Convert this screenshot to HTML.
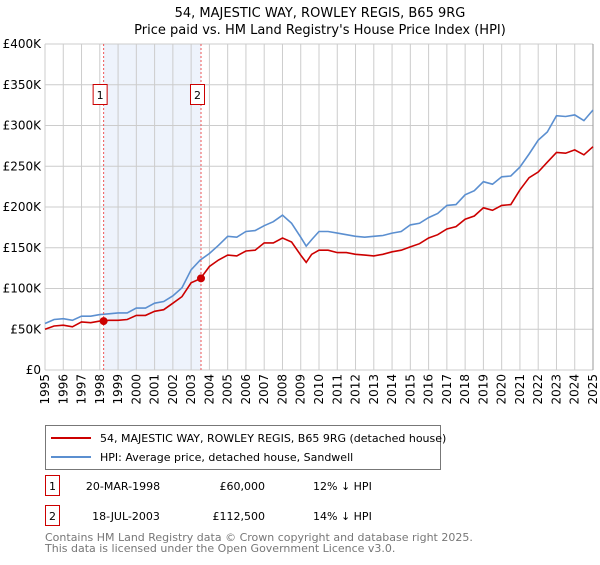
<!DOCTYPE html>
<html><head><meta charset="utf-8"><style>
body{margin:0;background:#fff;font-family:"Liberation Sans","DejaVu Sans",sans-serif;}
svg text{font-family:"DejaVu Sans","Liberation Sans",sans-serif;}
</style></head><body>
<svg id="c" width="600" height="560" viewBox="0 0 600 560" xmlns="http://www.w3.org/2000/svg">
<text x="320" y="17" text-anchor="middle" font-size="13">54, MAJESTIC WAY, ROWLEY REGIS, B65 9RG</text>
<text x="320" y="34" text-anchor="middle" font-size="13">Price paid vs. HM Land Registry's House Price Index (HPI)</text>
<g id="grid"></g><g id="marks"></g>
<g>
<rect x="45.5" y="425.5" width="395" height="44" fill="#fff" stroke="#777"/>
<line x1="51" y1="438" x2="91" y2="438" stroke="#c00" stroke-width="2"/>
<text x="100" y="442" font-size="11">54, MAJESTIC WAY, ROWLEY REGIS, B65 9RG (detached house)</text>
<line x1="51" y1="457" x2="91" y2="457" stroke="#5b8fd0" stroke-width="2"/>
<text x="100" y="461" font-size="11">HPI: Average price, detached house, Sandwell</text>
</g>
<g font-size="11">
<rect x="45.5" y="475.5" width="14" height="20" fill="#fff" stroke="#c00"/><text x="52.5" y="490" text-anchor="middle">1</text>
<text x="123" y="490" text-anchor="middle">20-MAR-1998</text><text x="265" y="490" text-anchor="end">£60,000</text><text x="313" y="490">12% ↓ HPI</text>
<rect x="45.5" y="505.5" width="14" height="20" fill="#fff" stroke="#c00"/><text x="52.5" y="520" text-anchor="middle">2</text>
<text x="126" y="520" text-anchor="middle">18-JUL-2003</text><text x="265" y="520" text-anchor="end">£112,500</text><text x="313" y="520">14% ↓ HPI</text>
</g>
<text x="45" y="541" font-size="11" fill="#777">Contains HM Land Registry data © Crown copyright and database right 2025.</text>
<text x="45" y="552" font-size="11" fill="#777">This data is licensed under the Open Government Licence v3.0.</text>
</svg>
<script>
const hpiYears=[1995,1995.5,1996,1996.5,1997,1997.5,1998,1998.5,1999,1999.5,2000,2000.5,2001,2001.5,2002,2002.5,2003,2003.5,2004,2004.5,2005,2005.5,2006,2006.5,2007,2007.5,2008,2008.5,2009,2009.3,2009.6,2010,2010.5,2011,2011.5,2012,2012.5,2013,2013.5,2014,2014.5,2015,2015.5,2016,2016.5,2017,2017.5,2018,2018.5,2019,2019.5,2020,2020.5,2021,2021.5,2022,2022.5,2023,2023.5,2024,2024.5,2025];
const hpiValues=[57,62,63,61,66,66,68,69,70,70,76,76,82,84,91,101,123,135,143,153,164,163,170,171,177,182,190,180,163,152,160,170,170,168,166,164,163,164,165,168,170,178,180,187,192,202,203,215,220,231,228,237,238,249,265,282,292,312,311,313,306,319];
const priceYears=[1995,1995.5,1996,1996.5,1997,1997.5,1998,1998.5,1999,1999.5,2000,2000.5,2001,2001.5,2002,2002.5,2003,2003.5,2004,2004.5,2005,2005.5,2006,2006.5,2007,2007.5,2008,2008.5,2009,2009.3,2009.6,2010,2010.5,2011,2011.5,2012,2012.5,2013,2013.5,2014,2014.5,2015,2015.5,2016,2016.5,2017,2017.5,2018,2018.5,2019,2019.5,2020,2020.5,2021,2021.5,2022,2022.5,2023,2023.5,2024,2024.5,2025];
const priceValues=[50,54,55,53,59,58,60,61,61,62,67,67,72,74,82,90,107,112,127,135,141,140,146,147,156,156,162,157,141,132,142,147,147,144,144,142,141,140,142,145,147,151,155,162,166,173,176,185,189,199,196,202,203,221,236,243,255,267,266,270,264,274];
const sales=[{t:1998.21,v:60,label:"1"},{t:2003.54,v:112.5,label:"2"}];
const yTicks=[0,50,100,150,200,250,300,350,400];
const yTickLabels=["£0","£50K","£100K","£150K","£200K","£250K","£300K","£350K","£400K"];
const xTicks=[1995,1996,1997,1998,1999,2000,2001,2002,2003,2004,2005,2006,2007,2008,2009,2010,2011,2012,2013,2014,2015,2016,2017,2018,2019,2020,2021,2022,2023,2024,2025];
const X0=45,X1=593,Y0=370,Y1=44;
const x=t=>X0+(t-1995)/(2025-1995)*(X1-X0);
const y=v=>Y0-v/400*(Y0-Y1);
const NS="http://www.w3.org/2000/svg";
const grid=document.getElementById('grid'),marks=document.getElementById('marks');
function mk(tag,at,parent){const e=document.createElementNS(NS,tag);for(const k in at)e.setAttribute(k,at[k]);parent.appendChild(e);return e;}
const band=mk('rect',{x:x(sales[0].t),y:Y1,width:x(sales[1].t)-x(sales[0].t),height:Y0-Y1,fill:'#eef3fc'},grid);


yTicks.forEach((v,i)=>{
 const l=mk('line',{x1:X0,x2:X1,y1:y(v),y2:y(v),stroke:'#ccc'},grid);
 
 
 const t=mk('text',{x:X0-4,y:y(v)+4,'text-anchor':'end','font-size':'12'},grid);t.textContent=yTickLabels[i];
 
 
});
xTicks.forEach(yr=>{
 const l=mk('line',{x1:x(yr),x2:x(yr),y1:Y1,y2:Y0,stroke:'#ccc'},grid);
 
 
 const t=mk('text',{x:0,y:0,'text-anchor':'end','font-size':'12',transform:`translate(${x(yr)+4},374) rotate(-90)`},grid);t.textContent=yr;
 
 
});
const rb=mk('line',{x1:X1,x2:X1,y1:Y1,y2:Y0,stroke:'#999'},grid);


function path(ts,vs){return ts.map((t,i)=>(i?'L':'M')+x(t).toFixed(1)+','+y(vs[i]).toFixed(1)).join('');}
const hp=mk('path',{d:path(hpiYears,hpiValues),fill:'none',stroke:'#5b8fd0','stroke-width':1.6},marks);


const pp=mk('path',{d:path(priceYears,priceValues),fill:'none',stroke:'#c00','stroke-width':1.6},marks);


sales.forEach(s=>{
 const l=mk('line',{x1:x(s.t),x2:x(s.t),y1:Y1,y2:Y0,stroke:'#e55','stroke-dasharray':'2,2'},marks);
 
 
 const c=mk('circle',{cx:x(s.t),cy:y(s.v),r:4,fill:'#c00'},marks);
 
 
 const b=mk('rect',{x:x(s.t)-10.5,y:84.5,width:14,height:20,fill:'#fff',stroke:'#c00'},marks);
 
 
 const t=mk('text',{x:x(s.t)-3.5,y:99,'text-anchor':'middle','font-size':'11'},marks);t.textContent=s.label;
 
 
});
</script>
</body></html>
